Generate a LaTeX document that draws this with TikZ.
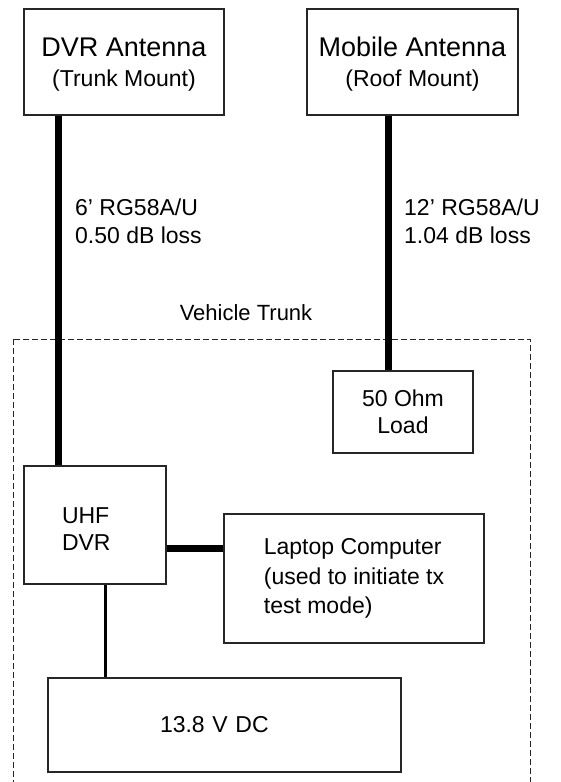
\documentclass[tikz,border=0pt]{standalone}
\usepackage{fontspec}
\setmainfont{Liberation Sans}
\usepackage{xcolor}
\usepackage{tikz}

\begin{document}
\begin{tikzpicture}[x=1pt, y=-1pt,
  unit/.style={rectangle, draw=black!85, line width=1.2pt, inner sep=0pt, align=center,
    font=\fontsize{23}{27}\selectfont},
  cable/.style={line width=7pt, color=black},
  wire/.style={line width=3pt, color=black},
  note/.style={inner sep=0pt, align=left, font=\fontsize{23}{28}\selectfont},
  trunk/.style={dash pattern=on 6pt off 3pt, line width=1pt, color=black!85},
]
  \useasboundingbox (0,0) rectangle (561,782);

  \draw[trunk] (13,339) rectangle (530,820);

  \node[unit, minimum width=200pt, minimum height=106pt, text height=53pt, font=\fontsize{27}{28}\selectfont] (dvrant) at (124,62)
    {DVR Antenna\\[2pt]{\fontsize{23}{28}\selectfont (Trunk Mount)}};
  \node[unit, minimum width=211pt, minimum height=106pt, text height=53pt, font=\fontsize{27}{28}\selectfont] (mobant) at (412.5,62)
    {Mobile Antenna\\[2pt]{\fontsize{23}{28}\selectfont (Roof Mount)}};
  \node[unit, minimum width=140pt, minimum height=82pt] (load) at (403,412) {50 Ohm\\Load};
  \node[unit, minimum height=118pt, text width=66pt, text height=23pt, inner xsep=38pt, align=left] (uhf) at (95,525) {UHF\\DVR};
  \node[unit, minimum width=260pt, minimum height=129pt, align=left,
    font=\fontsize{23}{29.5}\selectfont] (laptop) at (354,578.5)
    {Laptop Computer\\(used to initiate tx\\test mode)};
  \node[unit, minimum height=94pt, text width=129pt, inner xsep=112pt, align=left] (dc) at (224.5,725) {13.8 V DC};

  \node[note, anchor=west] (dvrlbl) at (75,221.5) {6' RG58A/U\\0.50 dB loss};
  \node[note, anchor=west] (moblbl) at (404,221.5) {12' RG58A/U\\1.04 dB loss};
  \node[note, font=\fontsize{22}{26}\selectfont] (trunklbl) at (246,313) {Vehicle Trunk};

  \coordinate (dvrfeed) at ([xshift=35pt]dvrant.south west);
  \coordinate (mobfeed) at ([xshift=82pt]mobant.south west);
  \coordinate (lapfeed) at ([yshift=-35pt]laptop.north west);
  \coordinate (pwrfeed) at ([xshift=82pt]uhf.south west);

  \draw[cable] (dvrfeed) -- (dvrfeed |- uhf.north);
  \draw[cable] (mobfeed) -- (mobfeed |- load.north);
  \draw[cable] (uhf.east |- lapfeed) -- (lapfeed);
  \draw[wire] (pwrfeed) -- (pwrfeed |- dc.north);
\end{tikzpicture}
\end{document}
